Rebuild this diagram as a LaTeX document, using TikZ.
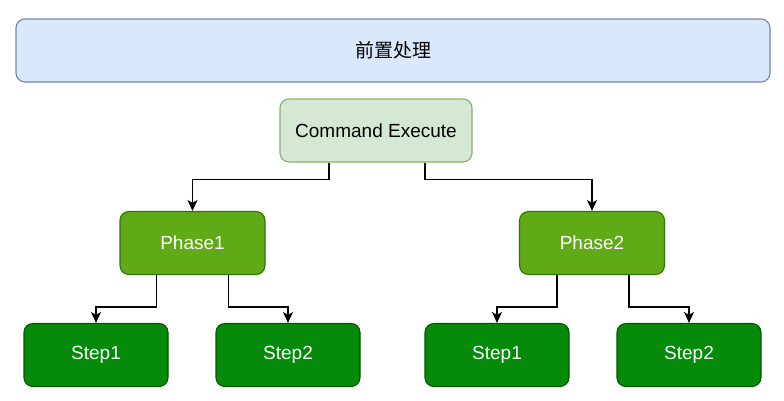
\documentclass[tikz,border=0pt]{standalone}
\usepackage{fontspec}
\setmainfont{Liberation Sans}
\newfontfamily\cjk{Noto Sans CJK SC}
\usepackage{xcolor}
\usetikzlibrary{arrows.meta}
\definecolor{prefill}{HTML}{DAE8FC}
\definecolor{predraw}{HTML}{7388A8}
\definecolor{cmdfill}{HTML}{D5E8D4}
\definecolor{cmddraw}{HTML}{82B366}
\definecolor{phasefill}{HTML}{60A917}
\definecolor{phasedraw}{HTML}{2D7600}
\definecolor{stepfill}{HTML}{058A0A}
\definecolor{stepdraw}{HTML}{005700}

\begin{document}
\begin{tikzpicture}[x=1pt,y=-1pt,>={Stealth[length=11pt,width=10pt,inset=3pt]},
    box/.style={rounded corners=9pt,line width=1.1pt,minimum height=63pt,
      font=\fontsize{19}{22}\selectfont},
    prebox/.style={box,fill=prefill,draw=predraw,minimum width=754pt},
    cmdbox/.style={box,fill=cmdfill,draw=cmddraw,minimum width=192pt},
    phasebox/.style={box,fill=phasefill,draw=phasedraw,text=white,minimum width=145pt},
    stepbox/.style={box,fill=stepfill,draw=stepdraw,text=white,minimum width=144pt},
    link/.style={->,line width=1.5pt}]
    \useasboundingbox (0,0) rectangle (784,400);
    \node[prebox] (pre) at (393,50.5) {\cjk 前置处理};
    \node[cmdbox] (cmd) at (376,130.5) {Command Execute};
    \node[phasebox] (p1) at (192.5,243) {Phase1};
    \node[phasebox] (p2) at (592,243) {Phase2};
    \node[stepbox] (s11) at (96,355) {Step1};
    \node[stepbox] (s12) at (288,355) {Step2};
    \node[stepbox] (s21) at (497,355) {Step1};
    \node[stepbox] (s22) at (689,355) {Step2};
    \draw[link] ([xshift=-47pt]cmd.south) -- ++(0,17) -| (p1.north);
    \draw[link] ([xshift=49pt]cmd.south) -- ++(0,17) -| (p2.north);
    \draw[link] ([xshift=-36pt]p1.south) -- ++(0,32) -| (s11.north);
    \draw[link] ([xshift=36pt]p1.south) -- ++(0,32) -| (s12.north);
    \draw[link] ([xshift=-35pt]p2.south) -- ++(0,32) -| (s21.north);
    \draw[link] ([xshift=37pt]p2.south) -- ++(0,32) -| (s22.north);
  \end{tikzpicture}
\end{document}
